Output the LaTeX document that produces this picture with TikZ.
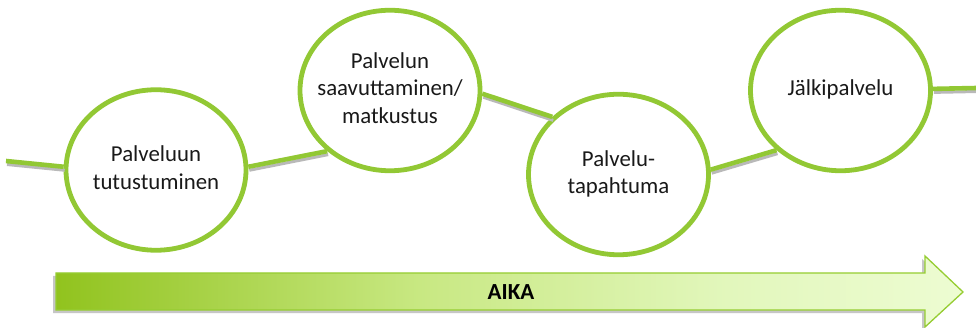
\documentclass[tikz,border=0pt]{standalone}
\usepackage{fontspec}
\setmainfont{Carlito}
\usetikzlibrary{shapes.geometric}
\definecolor{grn}{RGB}{146,200,52}
\definecolor{grnedge}{RGB}{150,205,50}
\definecolor{txt}{RGB}{25,25,25}
\definecolor{shA}{RGB}{145,195,30}
\definecolor{shB}{RGB}{200,232,130}
\definecolor{shC}{RGB}{226,247,188}
\definecolor{shD}{RGB}{237,252,210}
\pgfdeclarehorizontalshading{aikashade}{100bp}{color(0bp)=(shA); color(25bp)=(shA); color(45bp)=(shB); color(62bp)=(shC); color(75bp)=(shD); color(100bp)=(shD)}
\newcommand{\ctext}[1]{\makebox[0pt][c]{\begin{tabular}{@{}c@{}}#1\end{tabular}}}
\begin{document}
\begin{tikzpicture}[x=1pt,y=-1pt,
  stage/.style={shape=ellipse, draw=grn, line width=4.8pt, fill=white,
    minimum width=180pt, minimum height=160.5pt, inner sep=0pt,
    text=txt, font=\fontsize{22.8}{27.5}\selectfont},
  conn/.style={draw=grn, line width=4.6pt,
    preaction={draw=gray!55, line width=3pt, transform canvas={shift={(1pt,-3.5pt)}}}},
  aika/.style={font=\fontsize{23}{27}\selectfont\bfseries, text=black}
]
\useasboundingbox[fill=white] (0,0) rectangle (976,328);

% time arrow
\path[fill=gray!45] (53,276) -- (922,276) -- (922,259) -- (960,295) -- (922,330) -- (922,313) -- (53,313) -- cycle;
\path[draw=grnedge, line width=1.3pt, shading=aikashade, shading angle=0]
  (56,273) -- (925,273) -- (925,256) -- (963,292) -- (925,327) -- (925,310) -- (56,310) -- cycle;
\node[aika] (aika) at (511,292) {AIKA};

% stages
\node[stage] (c1) at (156,170) {\ctext{Palveluun\\tutustuminen}};
\node[stage] (c2) at (390,90.5) {\ctext{Palvelun\\saavuttaminen/\\matkustus}};
\node[stage] (c3) at (618.5,174.5) {\ctext{Palvelu-\\tapahtuma}};
\node[stage] (c4) at (840.5,90.5) {\ctext{Jälkipalvelu}};

\coordinate (start) at (6,161);
\coordinate (stop) at (977,88);

\draw[conn] (start) -- (c1.178);
\draw[conn] (c1.2.5) -- (c2.224);
\draw[conn] (c2.-2) -- (c3.139);
\draw[conn] (c3.3.4) -- (c4.223);
\draw[conn] (c4.1) -- (stop);
\end{tikzpicture}
\end{document}
